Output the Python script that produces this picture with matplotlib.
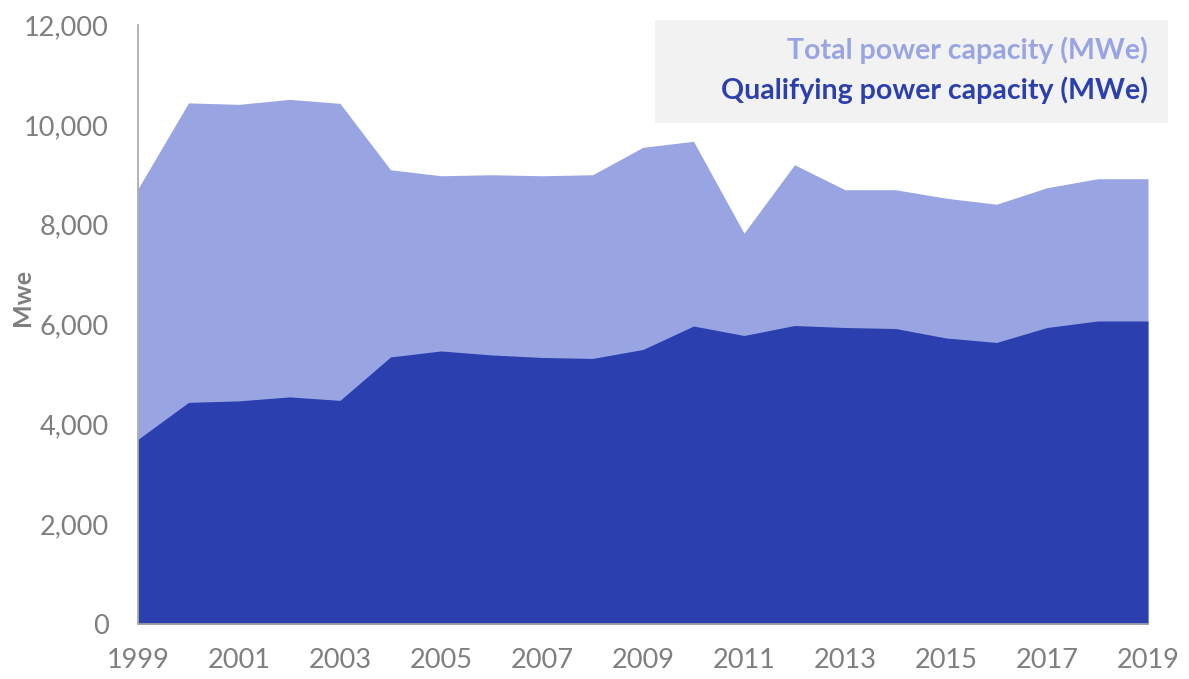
import matplotlib.pyplot as plt
from matplotlib.patches import Rectangle
from matplotlib.ticker import FuncFormatter

plt.rcParams["font.family"] = ["Lato", "DejaVu Sans"]

years = list(range(1999, 2020))
total_mwe = [8720, 10440, 10410, 10510, 10430, 9100, 8980, 9000, 8980, 9000, 9550,
             9670, 7830, 9200, 8700, 8700, 8530, 8410, 8740, 8920, 8920]
qualifying_mwe = [3700, 4440, 4470, 4550, 4480, 5350, 5470, 5390, 5340, 5320, 5500,
                  5970, 5780, 5980, 5940, 5920, 5730, 5640, 5940, 6070, 6070]

light = "#99a5e3"
dark = "#2b40ae"
grey = "#7f7f7f"

fig = plt.figure(figsize=(11.89, 6.79), dpi=100)
ax = fig.add_axes([138 / 1189, 55 / 679, 1010 / 1189, 599 / 679])

ax.fill_between(years, 0, total_mwe, color=light, lw=0)
ax.fill_between(years, 0, qualifying_mwe, color=dark, lw=0)

ax.set_xlim(1999, 2019)
ax.set_ylim(0, 12000)
ax.set_xticks(years[::2])
ax.set_yticks(range(0, 12001, 2000))
ax.yaxis.set_major_formatter(FuncFormatter(lambda v, _: f"{int(v):,}"))
ax.tick_params(length=0, labelsize=19.5, colors=grey)
ax.tick_params(axis="y", pad=21)
ax.tick_params(axis="x", pad=17)

for side in ("top", "right"):
    ax.spines[side].set_visible(False)
for side in ("left", "bottom"):
    ax.spines[side].set_color("#a6a6a6")
    ax.spines[side].set_linewidth(1.2)

fig.text(22 / 1189, 1 - 297 / 679, "Mwe", rotation=90, ha="center", va="center",
         fontsize=18, fontweight="bold", color=grey)

# legend box drawn by hand, text right-aligned
fig.patches.append(Rectangle((655 / 1189, 1 - 123 / 679), 513 / 1189, 103 / 679,
                             transform=fig.transFigure, facecolor="#f2f2f2",
                             edgecolor="none", zorder=0))
fig.text(1148 / 1189, 1 - 50 / 679, "Total power capacity (MWe)", ha="right",
         va="center", fontsize=20.5, fontweight="bold", color=light)
fig.text(1148 / 1189, 1 - 90 / 679, "Qualifying power capacity (MWe)", ha="right",
         va="center", fontsize=20.5, fontweight="bold", color=dark)

fig.savefig("out.png", dpi=100)
